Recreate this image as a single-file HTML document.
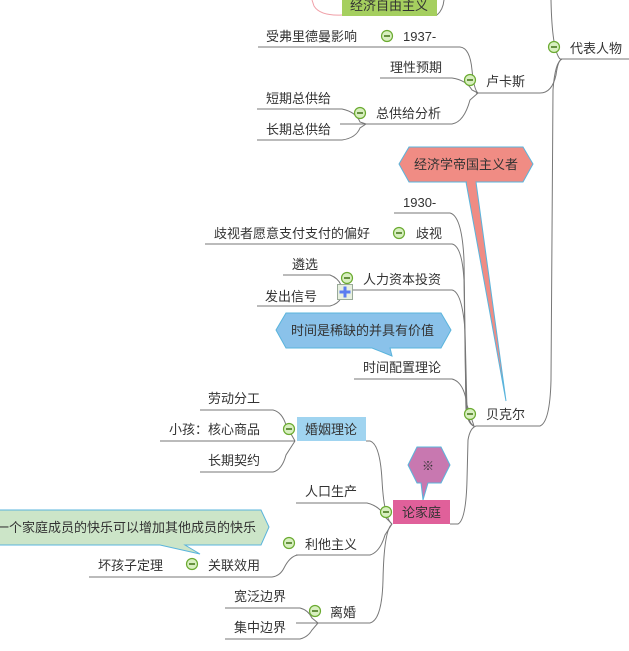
<!DOCTYPE html>
<html><head><meta charset="utf-8">
<style>
html,body{margin:0;padding:0;background:#fff;}
svg{display:block;}
text{font-family:"Liberation Sans","Noto Sans CJK SC",sans-serif;font-size:13px;fill:#333;}
</style></head>
<body>
<svg width="629" height="651" viewBox="0 0 629 651" xmlns="http://www.w3.org/2000/svg">
<defs>
<g id="m"><circle cx="0" cy="0" r="5.5" fill="#d8efc0" stroke="#6aaa30" stroke-width="1.2"/><rect x="-3" y="-0.8" width="6" height="1.6" fill="#4a7a20"/></g>
</defs>
<g fill="none" stroke="#777" stroke-width="1">
<!-- top -->
<path d="M342,15 Q320,16 314,6 L312,0" stroke="#f0a0a8"/>
<path d="M437,15 Q443,10 444,0"/>
<path d="M560,59 Q552,50 551,0"/>
<line x1="560" y1="59" x2="629" y2="59"/>
<!-- lucas -->
<path d="M476,93 L540,93 Q552,93 556,75 Q558,60 562,59"/>
<path d="M258,47 L460,47 Q470,48 472,70 Q474,90 478,93"/>
<path d="M380,78 L452,78 Q466,80 472,90 L478,93"/>
<path d="M340,124 L452,124 Q464,122 470,100 L478,93"/>
<path d="M257,109 L342,109 Q356,112 360,122 L366,124"/>
<path d="M257,140 L342,140 Q356,138 360,128 L366,124"/>
<!-- becker -->
<path d="M476,426 L540,426 Q550,422 551,380 L553,90 Q555,62 562,59"/>
<path d="M394,213 L450,213 Q462,216 464,260 L466,410 Q468,424 474,426"/>
<path d="M205,244 L452,244 Q462,246 464,280 L466,410 Q468,424 474,426"/>
<path d="M352,290 L452,290 Q462,292 465,330 L467,410 Q469,424 474,426"/>
<path d="M283,275 L330,275 Q338,278 341,285"/>
<path d="M257,306 L330,306 Q338,304 341,298"/>
<path d="M354,379 L452,379 Q464,382 467,405 L474,426"/>
<!-- family -->
<path d="M450,524 L458,524 Q466,520 467,480 L468,440 Q470,428 476,426" />
<path d="M366,441 L370,441 Q380,444 382,480 Q384,518 392,524"/>
<path d="M296,503 L367,503 Q380,506 386,518 L392,524"/>
<path d="M296,555 L370,555 Q380,552 385,535 L392,524"/>
<path d="M89,577 L272,577 Q280,576 284,568 Q290,556 298,555"/>
<path d="M296,623 L370,623 Q382,620 383,580 Q384,530 392,524"/>
<path d="M160,441 L295,441"/>
<path d="M200,410 L273,410 Q282,412 286,425 L295,441"/>
<path d="M200,472 L273,472 Q282,470 286,455 L295,441"/>
<path d="M225,608 L300,608 Q308,610 312,618 L318,623"/>
<path d="M225,639 L300,639 Q308,637 312,630 L318,623"/>
</g>
<!-- green top box -->
<rect x="342" y="-10" width="95" height="26" fill="#a5cf5f"/>
<text x="350" y="10">经济自由主义</text>
<!-- callouts -->
<polygon points="466,182 476,182 506,401" fill="#f08c84" stroke="#5ab4dc" stroke-width="1"/>
<polygon points="409,147 523,147 533,164 523,182 409,182 399,164" fill="#f08c84" stroke="#5ab4dc" stroke-width="1"/>
<polygon points="467,181 475,181 476,183 467,183" fill="#f08c84"/>
<text x="414" y="169">经济学帝国主义者</text>
<polygon points="286,313 441,313 451,330 441,348 390,348 392,356 372,348 286,348 276,330" fill="#8ac2ea" stroke="#5ab4dc" stroke-width="1"/>
<text x="291" y="335">时间是稀缺的并具有价值</text>
<polygon points="-2,510 261,510 269,527 261,545 185,545 200,554 160,545 -2,545" fill="#cce5c8" stroke="#5ab4dc" stroke-width="1"/>
<text x="-4" y="532">一个家庭成员的快乐可以增加其他成员的快乐</text>
<polygon points="417,447 441,447 450,465 441,483 428,483 423,500 421,483 417,483 408,465" fill="#c878b0" stroke="#5ab4dc" stroke-width="1"/>
<text x="422" y="470" style="font-size:12px">※</text>
<!-- boxes -->
<rect x="297" y="417" width="69" height="24" fill="#a0d4f0"/>
<text x="305" y="434">婚姻理论</text>
<rect x="393" y="500" width="57" height="24" fill="#e0609a"/>
<text x="402" y="517">论家庭</text>
<!-- labels -->
<text x="570" y="53">代表人物</text>
<text x="486" y="86">卢卡斯</text>
<text x="403" y="41">1937-</text>
<text x="266" y="41">受弗里德曼影响</text>
<text x="390" y="72">理性预期</text>
<text x="376" y="118">总供给分析</text>
<text x="266" y="103">短期总供给</text>
<text x="266" y="134">长期总供给</text>
<text x="403" y="207">1930-</text>
<text x="416" y="238">歧视</text>
<text x="214" y="238">歧视者愿意支付支付的偏好</text>
<text x="363" y="284">人力资本投资</text>
<text x="292" y="269">遴选</text>
<text x="265" y="301">发出信号</text>
<text x="363" y="372">时间配置理论</text>
<text x="486" y="419">贝克尔</text>
<text x="208" y="403">劳动分工</text>
<text x="169" y="434">小孩：核心商品</text>
<text x="208" y="465">长期契约</text>
<text x="305" y="496">人口生产</text>
<text x="305" y="549">利他主义</text>
<text x="208" y="570">关联效用</text>
<text x="98" y="570">坏孩子定理</text>
<text x="330" y="617">离婚</text>
<text x="234" y="601">宽泛边界</text>
<text x="234" y="632">集中边界</text>
<!-- minus icons -->
<use href="#m" x="554" y="47"/>
<use href="#m" x="470" y="80"/>
<use href="#m" x="387" y="36"/>
<use href="#m" x="360" y="113"/>
<use href="#m" x="399" y="233"/>
<use href="#m" x="347" y="278"/>
<use href="#m" x="470" y="414"/>
<use href="#m" x="289" y="429"/>
<use href="#m" x="386" y="512"/>
<use href="#m" x="289" y="543"/>
<use href="#m" x="192" y="564"/>
<use href="#m" x="315" y="611"/>
<!-- plus box -->
<rect x="337.5" y="284.5" width="15" height="15" fill="#e8f0e0" stroke="#9a9" stroke-width="1"/>
<rect x="339.5" y="290.5" width="11" height="3" fill="#5a7cf0"/>
<rect x="343.5" y="286.5" width="3" height="11" fill="#5a7cf0"/>
</svg>
</body></html>
